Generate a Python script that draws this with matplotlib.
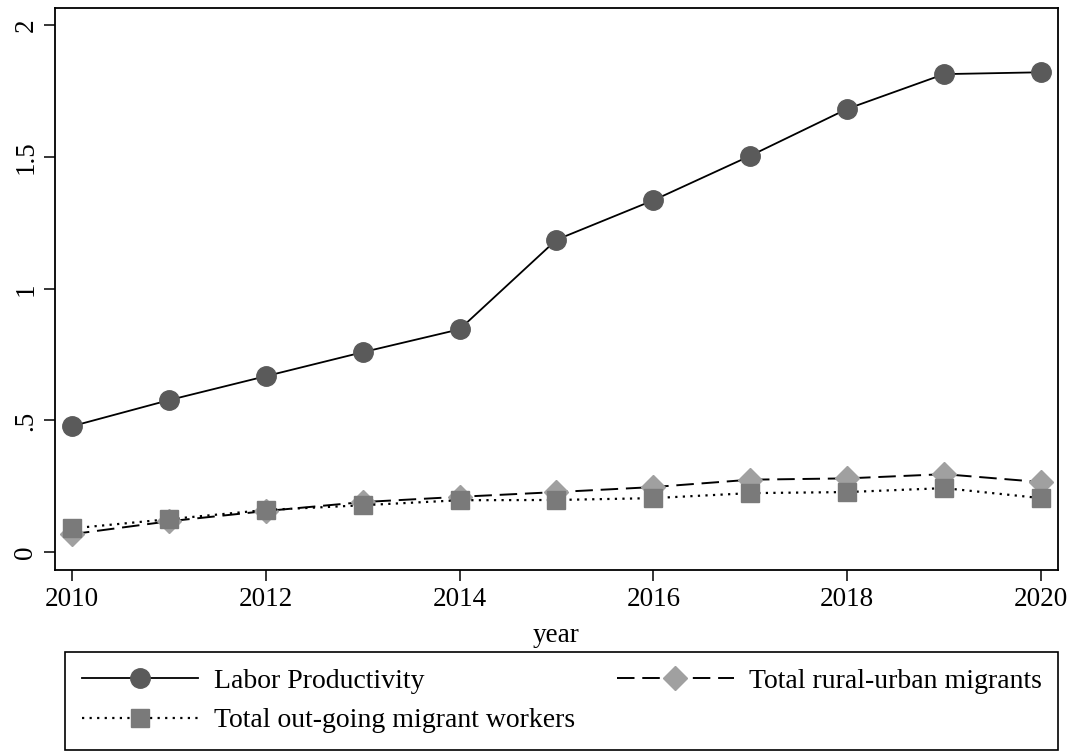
import matplotlib.pyplot as plt
from matplotlib.ticker import FixedLocator

plt.rcParams["font.family"] = ["Liberation Serif", "DejaVu Serif"]

years = [2010, 2011, 2012, 2013, 2014, 2015, 2016, 2017, 2018, 2019, 2020]
labor_productivity = [0.478, 0.577, 0.668, 0.759, 0.846, 1.186, 1.336, 1.505, 1.683, 1.815, 1.822]
rural_urban = [0.068, 0.117, 0.156, 0.19, 0.21, 0.228, 0.247, 0.275, 0.28, 0.296, 0.266]
out_going = [0.09, 0.125, 0.16, 0.178, 0.197, 0.198, 0.205, 0.224, 0.228, 0.243, 0.205]

y_ticks = [0, 0.5, 1, 1.5, 2]
y_ticklabels = ["0", ".5", "1", "1.5", "2"]
x_ticks = [2010, 2012, 2014, 2016, 2018, 2020]

fig = plt.figure(figsize=(10.74, 7.53), dpi=100)
ax = fig.add_axes([0.0512, 0.243, 0.9339, 0.746])

lp, = ax.plot(years, labor_productivity, color="black", lw=1.3, marker="o",
              ms=14, mfc="#5a5a5a", mec="#5a5a5a", label="Labor Productivity")
ru, = ax.plot(years, rural_urban, color="black", lw=1.4, ls=(0, (9, 4)),
              marker="D", ms=12, mfc="#a0a0a0", mec="#a0a0a0",
              label="Total rural-urban migrants")
og, = ax.plot(years, out_going, color="black", lw=1.6, ls=(0, (1, 2.4)),
              marker="s", ms=13, mfc="#7a7a7a", mec="#7a7a7a",
              label="Total out-going migrant workers")

ax.set_xlim(2009.825, 2020.175)
ax.set_ylim(-0.068, 2.065)
ax.xaxis.set_major_locator(FixedLocator(x_ticks))
ax.set_yticks(y_ticks)
ax.set_yticklabels(y_ticklabels, rotation=90, va="center")
ax.tick_params(axis="both", labelsize=19.5, length=8, width=1.1, direction="out")
ax.tick_params(axis="x", pad=4)
ax.tick_params(axis="y", pad=4)
for s in ax.spines.values():
    s.set_linewidth(1.3)
ax.set_xlabel("year", fontsize=19.5, labelpad=8)

leg = fig.legend(handles=[lp, og, ru], loc="lower left",
                 bbox_to_anchor=(0.0605, 0.004, 0.925, 0.133), mode="expand",
                 ncol=2, fontsize=20, handlelength=4.2, handletextpad=0.55,
                 borderaxespad=0, borderpad=0.6, labelspacing=0.5,
                 fancybox=False, edgecolor="black", framealpha=1)
leg.get_frame().set_linewidth(1.2)

fig.savefig("out.png", dpi=100)
